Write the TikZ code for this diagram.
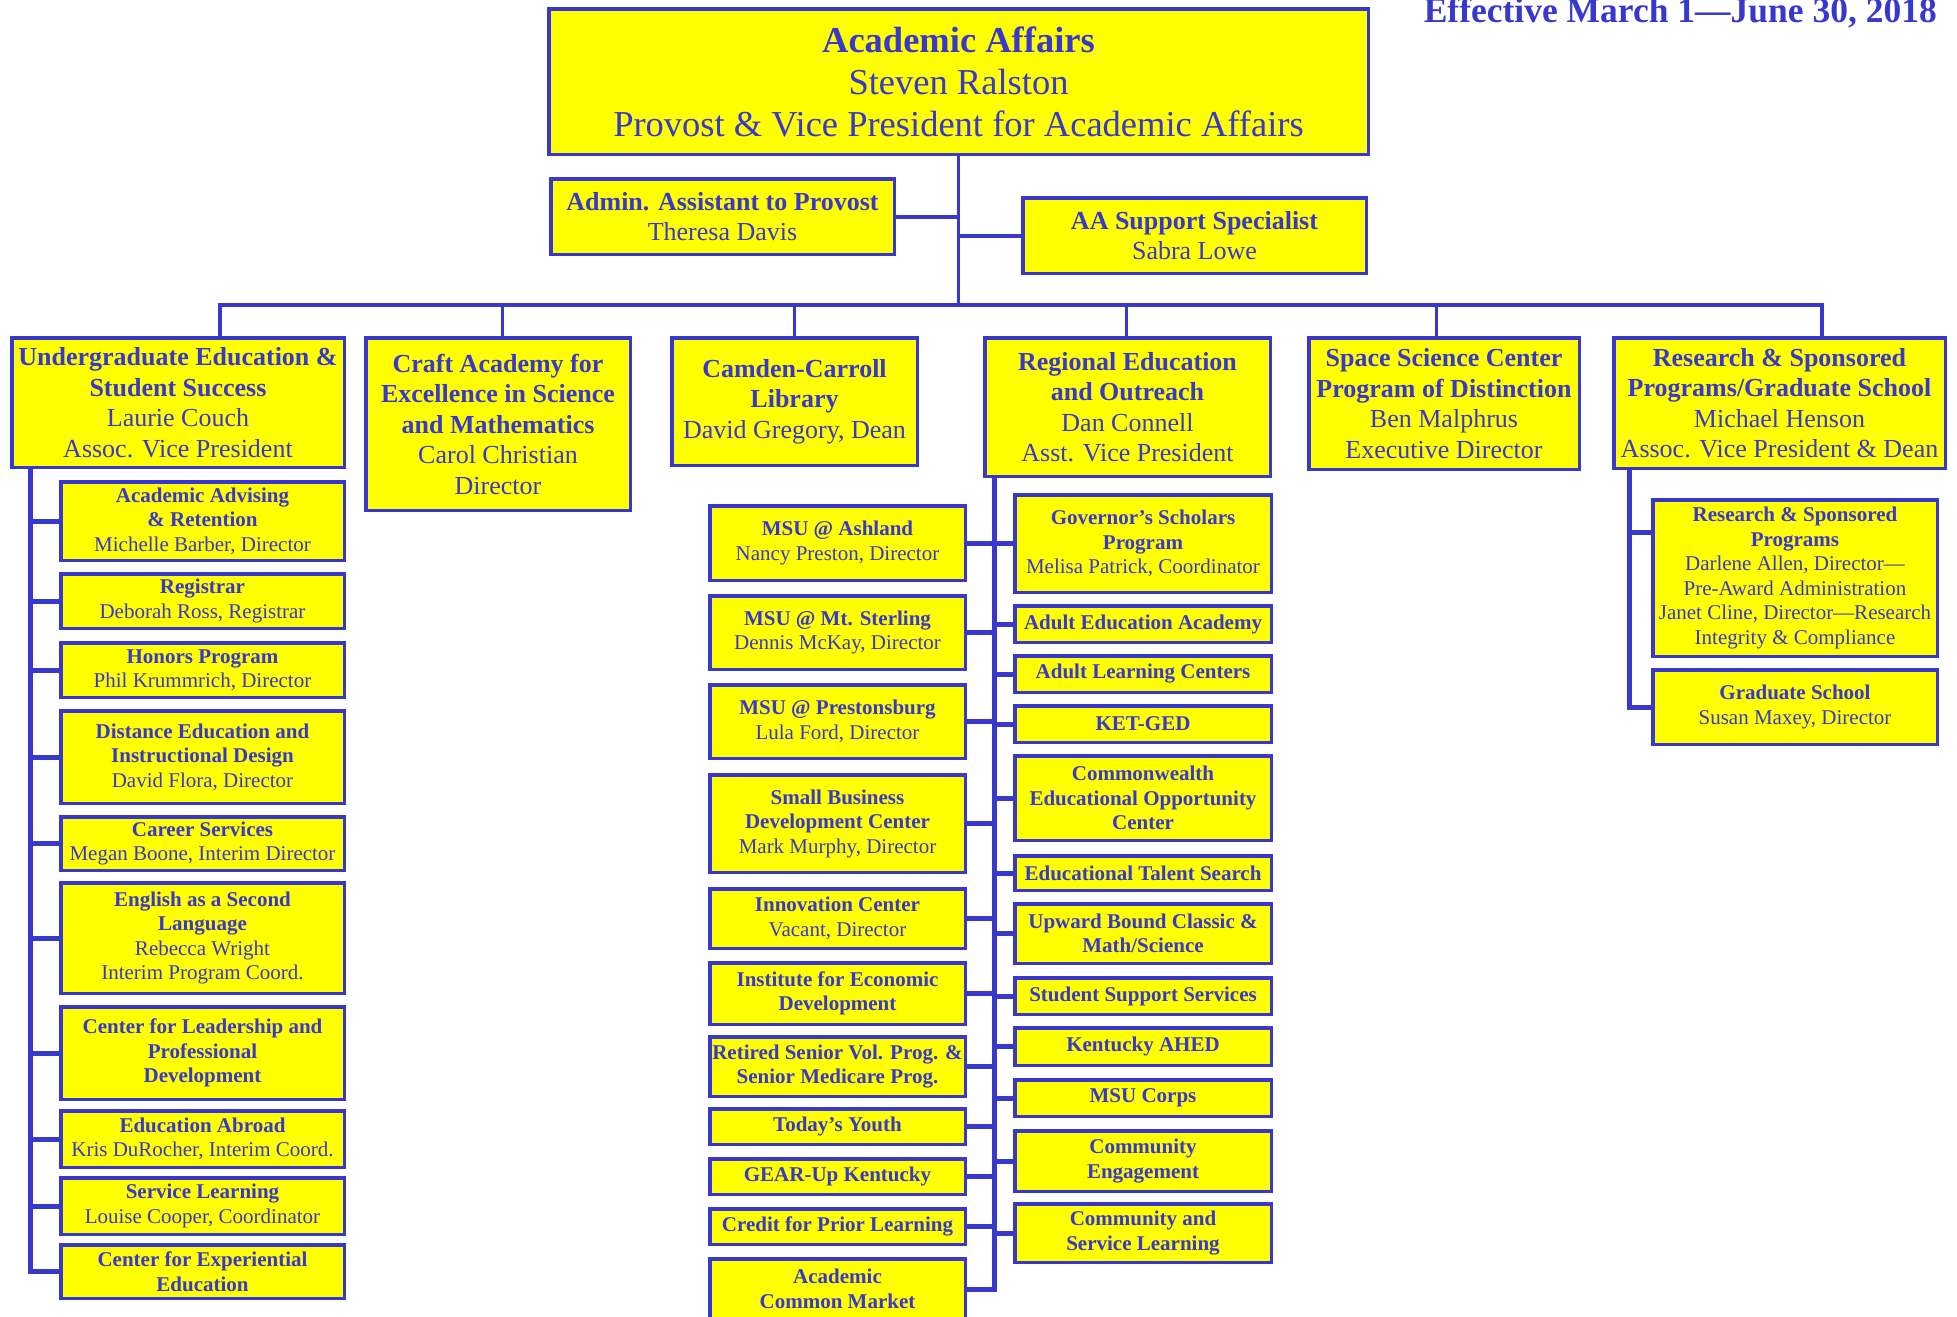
\documentclass[tikz,border=0pt]{standalone}
\usepackage{fontspec}
\setmainfont{Liberation Serif}
\definecolor{msublue}{RGB}{56,56,204}
\definecolor{msuyellow}{RGB}{255,255,0}
\newcommand{\headfont}{\fontsize{36.5}{42}\selectfont}
\newcommand{\deptfont}{\fontsize{26}{30.5}\selectfont}
\newcommand{\officefont}{\fontsize{21}{24.5}\selectfont}

\begin{document}
\begin{tikzpicture}[
    x=1pt, y=-1pt,
    unit/.style={rectangle, draw=msublue, line width=3.5pt, fill=msuyellow, text=msublue, align=center, inner sep=1pt},
    chief/.style={unit, font=\headfont},
    dept/.style={unit, font=\deptfont},
    office/.style={unit, font=\officefont},
    boldoffice/.style={unit, font=\officefont\bfseries},
    link/.style={draw=msublue, line width=5pt},
    sidelink/.style={draw=msublue, line width=4pt},
    trunk/.style={draw=msublue, line width=3pt},
    bus/.style={draw=msublue, line width=4pt},
    drop/.style={draw=msublue, line width=3pt}
  ]
    \useasboundingbox (0,0) rectangle (1957,1317);

    \node[text=msublue, font=\fontsize{35.5}{40}\selectfont\bfseries, anchor=base east, inner sep=0pt] (effective) at (1937,23) {Effective March 1—June 30, 2018};

    \node[chief, minimum width=819.5, minimum height=145.5] (provost) at (958.5,81.5) {
      \textbf{Academic Affairs}\\
      Steven Ralston\\
      Provost \& Vice President for Academic Affairs
    };
    \node[dept, minimum width=343.5, minimum height=75.5] (admin) at (722.5,216.5) {
      \textbf{Admin. Assistant to Provost}\\
      Theresa Davis
    };
    \node[dept, minimum width=343.5, minimum height=75.5] (aasupport) at (1194.5,235.5) {
      \textbf{AA Support Specialist}\\
      Sabra Lowe
    };

    % divisions
    \node[dept, minimum width=332.5, minimum height=129.5] (ugrad) at (178,402.5) {
      \textbf{Undergraduate Education \&}\\
      \textbf{Student Success}\\
      Laurie Couch\\
      Assoc. Vice President
    };
    \node[dept, minimum width=264.5, minimum height=172.5] (craft) at (498,424) {
      \textbf{Craft Academy for}\\
      \textbf{Excellence in Science}\\
      \textbf{and Mathematics}\\
      Carol Christian\\
      Director
    };
    \node[dept, minimum width=245.5, minimum height=127.5] (library) at (794.5,401.5) {
      \textbf{Camden-Carroll}\\
      \textbf{Library}\\
      David Gregory, Dean
    };
    \node[dept, minimum width=285.5, minimum height=138.5] (regional) at (1127.5,407) {
      \textbf{Regional Education}\\
      \textbf{and Outreach}\\
      Dan Connell\\
      Asst. Vice President
    };
    \node[dept, minimum width=270.5, minimum height=131.5] (space) at (1444,403.5) {
      \textbf{Space Science Center}\\
      \textbf{Program of Distinction}\\
      Ben Malphrus\\
      Executive Director
    };
    \node[dept, minimum width=331.5, minimum height=130.5] (research) at (1779.5,403) {
      \textbf{Research \& Sponsored}\\
      \textbf{Programs/Graduate School}\\
      Michael Henson\\
      Assoc. Vice President \& Dean
    };

    % undergraduate education offices
    \node[office, minimum width=283.5, minimum height=78.5] (advising) at (202.5,521) {
      \textbf{Academic Advising}\\
      \textbf{\& Retention}\\
      Michelle Barber, Director
    };
    \node[office, minimum width=283.5, minimum height=54.5] (registrar) at (202.5,601) {
      \textbf{Registrar}\\
      Deborah Ross, Registrar
    };
    \node[office, minimum width=283.5, minimum height=54.5] (honors) at (202.5,670) {
      \textbf{Honors Program}\\
      Phil Krummrich, Director
    };
    \node[office, minimum width=283.5, minimum height=92.5] (distance) at (202.5,757) {
      \textbf{Distance Education and}\\
      \textbf{Instructional Design}\\
      David Flora, Director
    };
    \node[office, minimum width=283.5, minimum height=53.5] (career) at (202.5,843.5) {
      \textbf{Career Services}\\
      Megan Boone, Interim Director
    };
    \node[office, minimum width=283.5, minimum height=110.5] (esl) at (202.5,938) {
      \textbf{English as a Second}\\
      \textbf{Language}\\
      Rebecca Wright\\
      Interim Program Coord.
    };
    \node[boldoffice, minimum width=283.5, minimum height=92.5] (leadership) at (202.5,1053) {
      Center for Leadership and\\
      Professional\\
      Development
    };
    \node[office, minimum width=283.5, minimum height=56.5] (abroad) at (202.5,1139) {
      \textbf{Education Abroad}\\
      Kris DuRocher, Interim Coord.
    };
    \node[office, minimum width=283.5, minimum height=56.5] (service) at (202.5,1206) {
      \textbf{Service Learning}\\
      Louise Cooper, Coordinator
    };
    \node[boldoffice, minimum width=283.5, minimum height=53.5] (experiential) at (202.5,1271.5) {
      Center for Experiential\\
      Education
    };

    % regional education, left column
    \node[office, minimum width=255.5, minimum height=74.5] (ashland) at (837.5,543) {
      \textbf{MSU @ Ashland}\\
      Nancy Preston, Director
    };
    \node[office, minimum width=255.5, minimum height=73.5] (sterling) at (837.5,632.5) {
      \textbf{MSU @ Mt. Sterling}\\
      Dennis McKay, Director
    };
    \node[office, minimum width=255.5, minimum height=73.5] (prestonsburg) at (837.5,721.5) {
      \textbf{MSU @ Prestonsburg}\\
      Lula Ford, Director
    };
    \node[office, minimum width=255.5, minimum height=97.5] (sbdc) at (837.5,823.5) {
      \textbf{Small Business}\\
      \textbf{Development Center}\\
      Mark Murphy, Director
    };
    \node[office, minimum width=255.5, minimum height=59.5] (innovation) at (837.5,918.5) {
      \textbf{Innovation Center}\\
      Vacant, Director
    };
    \node[boldoffice, minimum width=255.5, minimum height=61.5] (econdev) at (837.5,993.5) {
      Institute for Economic\\
      Development
    };
    \node[boldoffice, minimum width=255.5, minimum height=59.5] (rsvp) at (837.5,1066.5) {
      Retired Senior Vol. Prog. \&\\
      Senior Medicare Prog.
    };
    \node[boldoffice, minimum width=255.5, minimum height=35.5] (youth) at (837.5,1126.5) {Today’s Youth};
    \node[boldoffice, minimum width=255.5, minimum height=35.5] (gearup) at (837.5,1176.5) {GEAR-Up Kentucky};
    \node[boldoffice, minimum width=255.5, minimum height=35.5] (credit) at (837.5,1226.5) {Credit for Prior Learning};
    \node[boldoffice, minimum width=255.5, minimum height=60.5] (acm) at (837.5,1289) {
      Academic\\
      Common Market
    };

    % regional education, right column
    \node[office, minimum width=256.5, minimum height=97.5] (governor) at (1143,543.5) {
      \textbf{Governor’s Scholars}\\
      \textbf{Program}\\
      Melisa Patrick, Coordinator
    };
    \node[boldoffice, minimum width=256.5, minimum height=36.5] (adulted) at (1143,624) {Adult Education Academy};
    \node[boldoffice, minimum width=256.5, minimum height=36.5] (adultlc) at (1143,674) {Adult Learning Centers};
    \node[boldoffice, minimum width=256.5, minimum height=36.5] (ketged) at (1143,724) {KET-GED};
    \node[boldoffice, minimum width=256.5, minimum height=84.5] (ceoc) at (1143,798) {
      Commonwealth\\
      Educational Opportunity\\
      Center
    };
    \node[boldoffice, minimum width=256.5, minimum height=34.5] (talent) at (1143,873) {Educational Talent Search};
    \node[boldoffice, minimum width=256.5, minimum height=59.5] (upward) at (1143,933.5) {
      Upward Bound Classic \&\\
      Math/Science
    };
    \node[boldoffice, minimum width=256.5, minimum height=36.5] (support) at (1143,996) {Student Support Services};
    \node[boldoffice, minimum width=256.5, minimum height=37.5] (ahed) at (1143,1046.5) {Kentucky AHED};
    \node[boldoffice, minimum width=256.5, minimum height=36.5] (corps) at (1143,1098) {MSU Corps};
    \node[boldoffice, minimum width=256.5, minimum height=60.5] (engagement) at (1143,1161) {
      Community\\
      Engagement
    };
    \node[boldoffice, minimum width=256.5, minimum height=58.5] (commservice) at (1143,1233) {
      Community and\\
      Service Learning
    };

    % research offices
    \node[office, minimum width=284.5, minimum height=156.5] (rsp) at (1795,578) {
      \textbf{Research \& Sponsored}\\
      \textbf{Programs}\\
      Darlene Allen, Director—\\
      Pre-Award Administration\\
      Janet Cline, Director—Research\\
      Integrity \& Compliance
    };
    \node[office, minimum width=284.5, minimum height=74.5] (gradschool) at (1795,707) {
      \textbf{Graduate School}\\
      Susan Maxey, Director
    };

    % connectors
    \coordinate (buswest) at (220,305);
    \coordinate (buseast) at (1822,305);
    \coordinate (ugrail) at (30,0);
    \coordinate (rerail) at (994.5,0);
    \coordinate (rsrail) at (1629.5,0);
    \coordinate (rsptick) at ([yshift=-34pt]rsp.north west);

    \draw[trunk] (provost.south) -- (provost.south |- buswest);
    \draw[sidelink] (admin.east) -- (admin.east -| provost.south);
    \draw[sidelink] (aasupport.west) -- (aasupport.west -| provost.south);
    \draw[bus] (ugrad.north -| buswest) |- (buseast) -- (research.north -| buseast);
    \foreach \n/\x in {craft/502, library/794, regional/1126, space/1436}
      \draw[drop] (\n.north -| \x,0) -- (buswest -| \x,0);

    \draw[link] (ugrad.south -| ugrail) |- (experiential.west);
    \foreach \n in {advising, registrar, honors, distance, career, esl, leadership, abroad, service}
      \draw[link] (ugrail |- \n.west) -- (\n.west);

    \draw[link] (regional.south -| rerail) |- (acm.east);
    \foreach \n in {ashland, sterling, prestonsburg, sbdc, innovation, econdev, rsvp, youth, gearup, credit}
      \draw[link] (\n.east) -- (\n.east -| rerail);
    \foreach \n in {governor, adulted, adultlc, ketged, ceoc, talent, upward, support, ahed, corps, engagement, commservice}
      \draw[link] (rerail |- \n.west) -- (\n.west);

    \draw[link] (research.south -| rsrail) |- (gradschool.west);
    \draw[link] (rsrail |- rsptick) -- (rsptick);
  \end{tikzpicture}
\end{document}
